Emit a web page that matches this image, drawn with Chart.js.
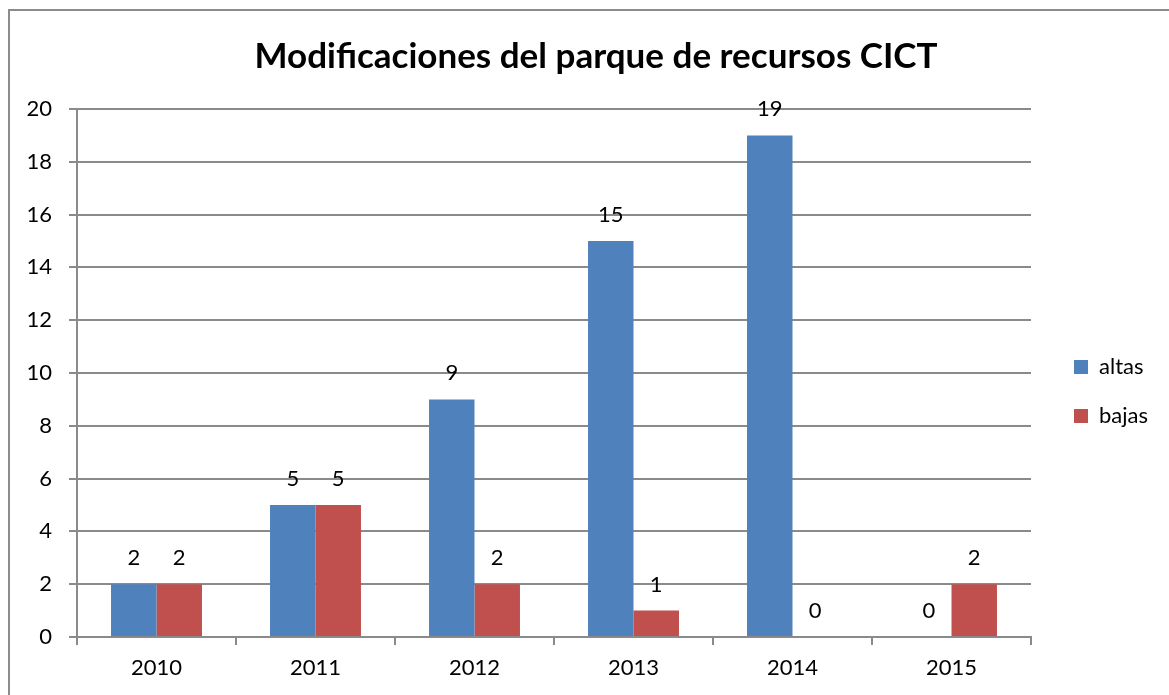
<!DOCTYPE html>
<html>
<head>
<meta charset="utf-8">
<script src="https://cdn.jsdelivr.net/npm/chart.js@4/dist/chart.umd.min.js"></script>
<style>
  body { margin: 0; background: #fff; }
  #wrap { position: relative; width: 1169px; height: 695px; }
  #frame { position: absolute; left: 8px; top: 9px; width: 1200px; height: 760px; border: 2px solid #8c8c8c; box-sizing: border-box; }
  canvas { position: absolute; left: 0; top: 0; }
</style>
</head>
<body>
<div id="wrap">
  <div id="frame"></div>
  <canvas id="grafico" width="1169" height="695"></canvas>
</div>
<script>
const anios = ['2010', '2011', '2012', '2013', '2014', '2015'];
const altas = [2, 5, 9, 15, 19, 0];
const bajas = [2, 5, 2, 1, 0, 2];
const titulo = 'Modificaciones del parque de recursos CICT';

const fuente = 'Lato, "Open Sans", sans-serif';

// etiquetas de valor encima de cada barra
const etiquetas = {
    id: 'etiquetas',
    afterDatasetsDraw(chart) {
        const c = chart.ctx;
        c.save();
        c.font = '22px ' + fuente;
        c.fillStyle = '#000';
        c.textAlign = 'center';
        c.textBaseline = 'bottom';
        chart.data.datasets.forEach((ds, i) => {
            chart.getDatasetMeta(i).data.forEach((bar, j) => {
                c.fillText(String(ds.data[j]), bar.x, bar.y - 15);
            });
        });
        c.restore();
    }
};

// mover la leyenda y el titulo un poco (como en el original)
const moverCajas = {
    id: 'moverCajas',
    afterLayout(chart) {
        const l = chart.legend;
        l.left += 16; l.right += 16;
        l.top += 44; l.bottom += 44;
        const t = chart.titleBlock;
        t.left += 20; t.right += 20;
    }
};

new Chart(document.querySelector('#grafico'), {
    type: 'bar',
    data: {
        labels: anios,
        datasets: [
            { label: 'altas', data: altas, backgroundColor: '#4f81bd' },
            { label: 'bajas', data: bajas, backgroundColor: '#c0504d' }
        ]
    },
    options: {
        responsive: false,
        animation: false,
        categoryPercentage: 0.572,
        barPercentage: 1,
        layout: { padding: { left: 10, right: 27, top: 0, bottom: 0 } },
        plugins: {
            title: {
                display: true,
                text: titulo,
                color: '#000',
                font: { family: fuente, size: 35, weight: 'bold' },
                padding: { top: 36, bottom: 31 }
            },
            legend: {
                position: 'right',
                labels: {
                    color: '#000',
                    font: { family: fuente, size: 22 },
                    boxWidth: 14,
                    boxHeight: 14,
                    padding: 27
                }
            },
            tooltip: { enabled: false }
        },
        scales: {
            x: {
                grid: { drawOnChartArea: false, color: '#8a8a8a', tickLength: 8, lineWidth: 2 },
                border: { color: '#8a8a8a', width: 2 },
                ticks: { color: '#000', font: { family: fuente, size: 22 }, padding: 10 },
                afterFit(s) { s.height = 58; }
            },
            y: {
                min: 0,
                max: 20,
                ticks: { stepSize: 2, color: '#000', font: { family: fuente, size: 22 }, padding: 17 },
                grid: { color: '#8a8a8a', lineWidth: 2, tickLength: 8 },
                border: { color: '#8a8a8a', width: 2 },
                afterFit(s) { s.width = 67; }
            }
        }
    },
    plugins: [etiquetas, moverCajas]
});
</script>
</body>
</html>
